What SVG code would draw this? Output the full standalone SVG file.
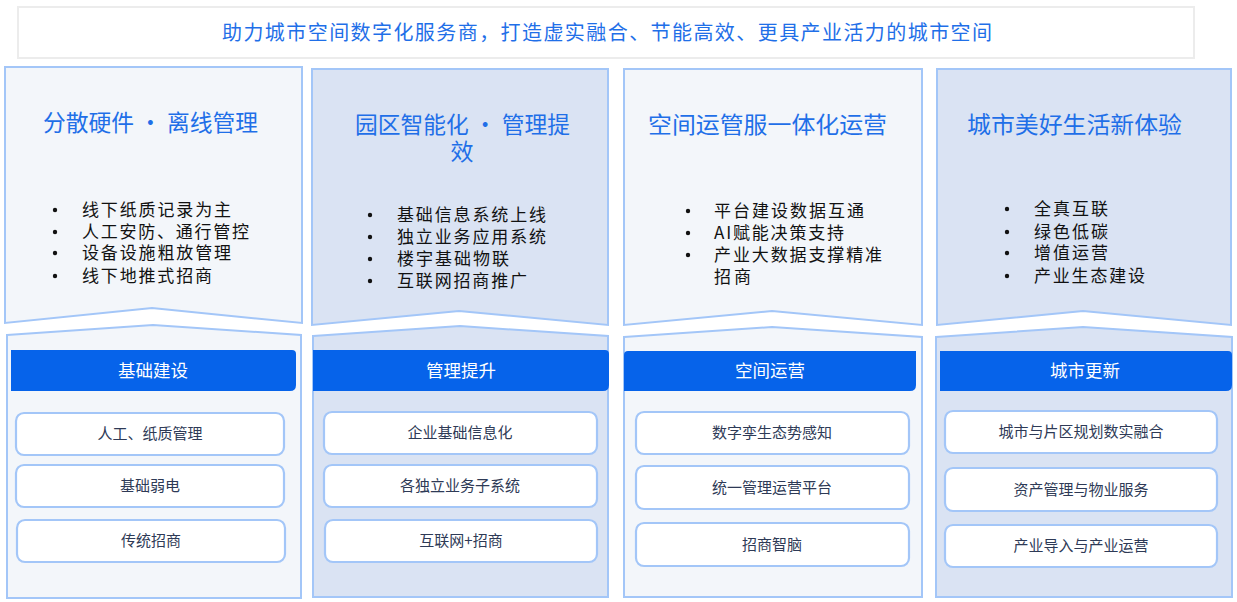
<svg xmlns="http://www.w3.org/2000/svg" width="1237" height="602" viewBox="0 0 1237 602">
<defs>
<style>
.cj{font-family:"Noto Sans CJK SC","Liberation Sans",sans-serif}
.banner{fill:#fff;stroke:#ececec;stroke-width:2}
.bannerTxt{fill:#1f6fe8;font-size:20px}
.pl{fill:#f3f6fa;stroke:#a3c6f8;stroke-width:2}
.pb{fill:#dae3f3;stroke:#a3c6f8;stroke-width:2}
.ttl{fill:#1f6fe8;font-size:23px}
.arr{stroke:#2a74e8;stroke-width:1.5;fill:none}
.bul{fill:#111;font-size:17px}
.dot{fill:#111}
.bar{fill:#0663ea}
.barTxt{fill:#fff;font-size:17.5px;text-anchor:middle}
.box{fill:#fff;stroke:#a3c6f8;stroke-width:2.2}
.boxTxt{fill:#2e3a56;font-size:15px;text-anchor:middle}
</style>
<marker id="ah" viewBox="0 0 10 10" refX="9" refY="5" markerWidth="6" markerHeight="6" orient="auto" markerUnits="strokeWidth">
<path d="M0,0 L10,5 L0,10 Z" fill="#2a74e8"/>
</marker>
</defs>
<rect width="1237" height="602" fill="#fff"/>

<g id="banner">
<rect class="banner" x="18" y="7" width="1176" height="51"/>
<text class="cj bannerTxt" x="607" y="40" text-anchor="middle" textLength="770" lengthAdjust="spacing">助力城市空间数字化服务商，打造虚实融合、节能高效、更具产业活力的城市空间</text>
</g>

<g id="connectors">
<line class="arr" x1="53" y1="166" x2="246" y2="166" marker-end="url(#ah)"/>
<line class="arr" x1="365" y1="168" x2="558" y2="168" marker-end="url(#ah)"/>
<line class="arr" x1="673" y1="169" x2="867" y2="169" marker-end="url(#ah)"/>
<line class="arr" x1="988" y1="169" x2="1183" y2="169" marker-end="url(#ah)"/>
</g>

<g id="stage1">
<path class="pl" d="M5,67 L302,67 L302,323 L152,308 L5,323 Z"/>
<text class="cj ttl" x="43" y="131" textLength="215" lengthAdjust="spacingAndGlyphs">分散硬件 • 离线管理</text>
<g class="dot"><circle cx="55" cy="210" r="2.2"/><circle cx="55" cy="232" r="2.2"/><circle cx="55" cy="253" r="2.2"/><circle cx="55" cy="276" r="2.2"/></g>
<g class="cj bul">
<text x="82" y="216" textLength="149" lengthAdjust="spacing">线下纸质记录为主</text>
<text x="82" y="238" textLength="167" lengthAdjust="spacing">人工安防、通行管控</text>
<text x="82" y="259" textLength="149" lengthAdjust="spacing">设备设施粗放管理</text>
<text x="82" y="282" textLength="130" lengthAdjust="spacing">线下地推式招商</text>
</g>
</g>

<g id="stage2">
<path class="pb" d="M312,69 L608,69 L608,325 L459,311 L312,325 Z"/>
<text class="cj ttl" x="355" y="133" textLength="215" lengthAdjust="spacingAndGlyphs">园区智能化 • 管理提</text>
<text class="cj ttl" x="462" y="160" text-anchor="middle">效</text>
<g class="dot"><circle cx="370" cy="215" r="2.2"/><circle cx="370" cy="237" r="2.2"/><circle cx="370" cy="259" r="2.2"/><circle cx="370" cy="281" r="2.2"/></g>
<g class="cj bul">
<text x="397" y="221" textLength="149" lengthAdjust="spacing">基础信息系统上线</text>
<text x="397" y="243" textLength="149" lengthAdjust="spacing">独立业务应用系统</text>
<text x="397" y="265" textLength="112" lengthAdjust="spacing">楼宇基础物联</text>
<text x="397" y="287" textLength="130" lengthAdjust="spacing">互联网招商推广</text>
</g>
</g>

<g id="stage3">
<path class="pl" d="M624,69 L922,69 L922,325 L772,311 L624,325 Z"/>
<text class="cj ttl" x="648" y="133" textLength="239" lengthAdjust="spacingAndGlyphs">空间运管服一体化运营</text>
<g class="dot"><circle cx="688" cy="211" r="2.2"/><circle cx="688" cy="233" r="2.2"/><circle cx="688" cy="255" r="2.2"/></g>
<g class="cj bul">
<text x="714" y="217" textLength="150" lengthAdjust="spacing">平台建设数据互通</text>
<text x="714" y="239" textLength="130" lengthAdjust="spacing">AI赋能决策支持</text>
<text x="714" y="261" textLength="168" lengthAdjust="spacing">产业大数据支撑精准</text>
<text x="714" y="283" textLength="37" lengthAdjust="spacing">招商</text>
</g>
</g>

<g id="stage4">
<path class="pb" d="M937,69 L1231,69 L1231,325 L1083,311 L937,325 Z"/>
<text class="cj ttl" x="967" y="133" textLength="215" lengthAdjust="spacingAndGlyphs">城市美好生活新体验</text>
<g class="dot"><circle cx="1007" cy="209" r="2.2"/><circle cx="1007" cy="232" r="2.2"/><circle cx="1007" cy="253" r="2.2"/><circle cx="1007" cy="276" r="2.2"/></g>
<g class="cj bul">
<text x="1034" y="215" textLength="74" lengthAdjust="spacing">全真互联</text>
<text x="1034" y="238" textLength="74" lengthAdjust="spacing">绿色低碳</text>
<text x="1034" y="259" textLength="74" lengthAdjust="spacing">增值运营</text>
<text x="1034" y="282" textLength="111" lengthAdjust="spacing">产业生态建设</text>
</g>
</g>

<g id="layer1">
<path class="pl" d="M7,335 L153,325 L301,335 L301,598 L7,598 Z"/>
<path class="bar" d="M11,350 L292,350 Q296,350 296,354 L296,385 Q296,391 290,391 L11,391 Z"/>
<text class="cj barTxt" x="153" y="377">基础建设</text>
<rect class="box" x="16" y="413" width="268" height="42" rx="8"/>
<text class="cj boxTxt" x="150" y="439">人工、纸质管理</text>
<rect class="box" x="16" y="465" width="268" height="42" rx="8"/>
<text class="cj boxTxt" x="150" y="491">基础弱电</text>
<rect class="box" x="17" y="520" width="268" height="42" rx="8"/>
<text class="cj boxTxt" x="151" y="546">传统招商</text>
</g>

<g id="layer2">
<path class="pb" d="M313,336 L460,326 L608,336 L608,597 L313,597 Z"/>
<path class="bar" d="M313,350 L605,350 Q609,350 609,354 L609,385 Q609,391 603,391 L313,391 Z"/>
<text class="cj barTxt" x="461" y="377">管理提升</text>
<rect class="box" x="324" y="412" width="273" height="42" rx="8"/>
<text class="cj boxTxt" x="460" y="438">企业基础信息化</text>
<rect class="box" x="324" y="465" width="273" height="42" rx="8"/>
<text class="cj boxTxt" x="460" y="491">各独立业务子系统</text>
<rect class="box" x="325" y="520" width="272" height="42" rx="8"/>
<text class="cj boxTxt" x="461" y="546">互联网+招商</text>
</g>

<g id="layer3">
<path class="pl" d="M624,337 L772,327 L922,337 L922,597 L624,597 Z"/>
<path class="bar" d="M628,351 L916,351 L916,385 Q916,391 910,391 L624,391 L624,355 Q624,351 628,351 Z"/>
<text class="cj barTxt" x="770" y="377">空间运营</text>
<rect class="box" x="636" y="412" width="273" height="42" rx="8"/>
<text class="cj boxTxt" x="772" y="438">数字孪生态势感知</text>
<rect class="box" x="636" y="466" width="273" height="43" rx="8"/>
<text class="cj boxTxt" x="772" y="493">统一管理运营平台</text>
<rect class="box" x="636" y="523" width="273" height="43" rx="8"/>
<text class="cj boxTxt" x="772" y="550">招商智脑</text>
</g>

<g id="layer4">
<path class="pb" d="M936,337 L1083,327 L1232,337 L1232,597 L936,597 Z"/>
<path class="bar" d="M940,351 L1228,351 Q1232,351 1232,355 L1232,385 Q1232,391 1226,391 L940,391 Z"/>
<text class="cj barTxt" x="1085" y="377">城市更新</text>
<rect class="box" x="945" y="411" width="272" height="42" rx="8"/>
<text class="cj boxTxt" x="1081" y="437">城市与片区规划数实融合</text>
<rect class="box" x="945" y="468" width="272" height="43" rx="8"/>
<text class="cj boxTxt" x="1081" y="495">资产管理与物业服务</text>
<rect class="box" x="945" y="525" width="272" height="42" rx="8"/>
<text class="cj boxTxt" x="1081" y="551">产业导入与产业运营</text>
</g>
</svg>
